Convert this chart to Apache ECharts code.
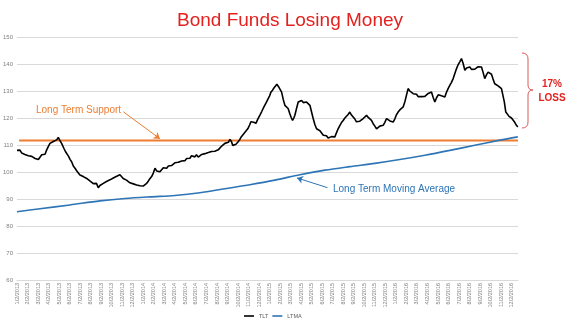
<!DOCTYPE html>
<html>
<head>
<meta charset="utf-8">
<script src="https://cdn.jsdelivr.net/npm/echarts@6/dist/echarts.min.js"></script>
<style>
  html, body { margin: 0; padding: 0; background: #fff; }
  #chart { width: 580px; height: 326px; }
</style>
</head>
<body>
<div id="chart"></div>
<script>
// Month tick labels (one per month, Jan 2013 .. Dec 2016)
const years = [2013, 2014, 2015, 2016];
const monthLabels = [];
years.forEach(y => { for (let m = 1; m <= 12; m++) monthLabels.push(m + '/2/' + y); });

// TLT closing prices: [months since Jan 2013, price]
const tlt = [
  [0, 108.0], [0.28, 108.1], [0.45, 107.0], [0.60, 107.6], [0.75, 106.5], [0.92, 106.9],
  [1.08, 106.0], [1.23, 106.7], [1.40, 105.8], [1.55, 106.3], [1.72, 105.0], [1.87, 105.3],
  [2.03, 104.6], [2.18, 105.2], [2.35, 106.4], [2.50, 107.1], [2.66, 106.6], [2.82, 108.2],
  [2.98, 109.5], [3.13, 110.6], [3.30, 110.2], [3.45, 111.3], [3.62, 111.0], [3.77, 111.9],
  [3.92, 112.8], [4.08, 111.6], [4.25, 110.5], [4.45, 108.8], [4.60, 107.6], [4.72, 106.9],
  [4.90, 105.8], [5.05, 104.6], [5.19, 103.8], [5.35, 102.2], [5.51, 101.4], [5.70, 100.3],
  [5.85, 99.6], [5.98, 98.9], [6.15, 99.4], [6.30, 98.3], [6.45, 98.6], [6.62, 97.6],
  [6.80, 97.9], [6.95, 96.6], [7.10, 96.9], [7.25, 95.7], [7.40, 95.2], [7.55, 95.8],
  [7.72, 94.2], [7.88, 95.0], [8.05, 94.6], [8.20, 95.8], [8.35, 95.3], [8.50, 96.5],
  [8.65, 96.1], [8.83, 97.1], [9.00, 96.7], [9.15, 97.8], [9.30, 97.5], [9.47, 98.4],
  [9.62, 98.0], [9.78, 99.0], [9.93, 98.4], [10.09, 97.6], [10.25, 97.9], [10.40, 97.0],
  [10.55, 96.5], [10.73, 96.0], [10.90, 96.4], [11.05, 95.6], [11.20, 95.9], [11.37, 95.2],
  [11.52, 95.6], [11.68, 94.9], [11.85, 95.3], [11.99, 94.8], [12.15, 95.2], [12.32, 95.8],
  [12.47, 96.6], [12.62, 97.5], [12.79, 98.3], [12.95, 99.6], [13.11, 101.4], [13.27, 100.4],
  [13.42, 100.8], [13.58, 100.1], [13.75, 100.7], [13.90, 101.6], [14.05, 101.0], [14.22, 101.4],
  [14.38, 102.2], [14.53, 101.6], [14.68, 102.4], [14.84, 102.6], [15.00, 103.4], [15.15, 102.8],
  [15.32, 103.6], [15.48, 103.2], [15.65, 104.1], [15.80, 104.6], [15.95, 104.2], [16.12, 105.0],
  [16.28, 105.6], [16.43, 105.1], [16.58, 106.0], [16.74, 106.3], [16.90, 105.6], [17.05, 106.4],
  [17.22, 105.5], [17.38, 105.7], [17.55, 106.5], [17.70, 105.9], [17.86, 106.8], [18.02, 106.3],
  [18.18, 107.2], [18.33, 106.9], [18.48, 107.6], [18.64, 108.1], [18.80, 107.7], [18.95, 108.4],
  [19.12, 108.2], [19.28, 108.8], [19.45, 109.6], [19.60, 110.1], [19.75, 110.6], [19.92, 111.3],
  [20.08, 111.0], [20.23, 112.1], [20.38, 111.2], [20.50, 109.8], [20.61, 109.4], [20.80, 110.3],
  [20.99, 111.1], [21.15, 111.9], [21.30, 113.0], [21.46, 113.6], [21.62, 114.5], [21.78, 115.2],
  [21.94, 116.1], [22.10, 117.4], [22.22, 118.6], [22.32, 119.1], [22.50, 118.4], [22.70, 118.0],
  [22.88, 119.6], [23.08, 121.1], [23.25, 122.4], [23.46, 124.1], [23.65, 125.5], [23.84, 127.0],
  [24.00, 128.2], [24.12, 129.5], [24.28, 130.3], [24.41, 131.1], [24.55, 131.8], [24.69, 132.5],
  [24.85, 131.6], [24.98, 132.1], [25.14, 129.6], [25.30, 126.8], [25.45, 124.7], [25.60, 125.3],
  [25.76, 123.5], [25.92, 121.6], [26.05, 120.2], [26.18, 119.1], [26.30, 120.0], [26.40, 121.0],
  [26.55, 123.4], [26.72, 125.9], [26.88, 126.6], [27.04, 126.5], [27.20, 125.7], [27.35, 126.2],
  [27.51, 125.9], [27.67, 125.2], [27.83, 124.7], [27.98, 122.3], [28.14, 119.8], [28.30, 117.6],
  [28.46, 116.0], [28.62, 116.6], [28.78, 115.3], [28.94, 114.8], [29.10, 113.6], [29.25, 113.0],
  [29.40, 113.4], [29.56, 112.6], [29.72, 112.3], [29.88, 113.1], [30.04, 112.4], [30.20, 113.0],
  [30.36, 114.6], [30.51, 116.0], [30.67, 117.2], [30.83, 118.3], [30.99, 119.1], [31.15, 120.0],
  [31.30, 120.6], [31.46, 121.3], [31.62, 122.2], [31.78, 121.1], [31.94, 120.4], [32.10, 119.6],
  [32.25, 118.6], [32.41, 117.9], [32.57, 118.8], [32.73, 119.0], [32.89, 119.8], [33.05, 120.5],
  [33.21, 121.0], [33.37, 120.2], [33.52, 119.5], [33.68, 119.1], [33.84, 117.9], [34.00, 117.0],
  [34.16, 116.0], [34.32, 116.5], [34.47, 117.0], [34.63, 116.7], [34.79, 117.3], [34.95, 118.4],
  [35.11, 119.8], [35.27, 119.3], [35.43, 118.9], [35.58, 119.2], [35.74, 118.5], [35.90, 119.7],
  [36.05, 121.2], [36.21, 122.2], [36.37, 123.0], [36.53, 123.6], [36.69, 124.1], [36.85, 126.0],
  [37.00, 128.4], [37.16, 130.9], [37.32, 130.0], [37.48, 129.5], [37.64, 129.0], [37.80, 128.3],
  [37.96, 128.8], [38.11, 127.9], [38.27, 127.2], [38.43, 127.9], [38.59, 128.6], [38.75, 128.0],
  [38.91, 128.4], [39.07, 129.1], [39.22, 129.6], [39.38, 129.6], [39.54, 127.6], [39.70, 125.9],
  [39.86, 127.5], [40.02, 128.6], [40.17, 129.0], [40.33, 128.2], [40.49, 127.6], [40.65, 127.8],
  [40.81, 129.6], [40.97, 131.0], [41.12, 132.1], [41.28, 133.2], [41.44, 134.6], [41.60, 136.5],
  [41.76, 138.3], [41.92, 139.8], [42.08, 140.9], [42.23, 142.0], [42.39, 140.2], [42.55, 137.7],
  [42.71, 138.5], [42.86, 139.2], [43.02, 138.9], [43.18, 138.0], [43.34, 138.6], [43.50, 138.1],
  [43.66, 138.3], [43.82, 139.0], [43.97, 138.4], [44.13, 138.9], [44.29, 136.8], [44.44, 134.6],
  [44.60, 136.0], [44.76, 137.0], [44.92, 137.7], [45.08, 136.2], [45.23, 134.4], [45.39, 132.7],
  [45.55, 132.9], [45.71, 131.9], [45.87, 132.1], [46.03, 130.9], [46.18, 130.2], [46.30, 126.0],
  [46.44, 122.2], [46.60, 121.5], [46.75, 120.6], [46.82, 121.0], [46.98, 120.0], [47.13, 119.8],
  [47.29, 118.4], [47.45, 117.3], [47.58, 116.7]
];

// Long-term moving average: [months since Jan 2013, value]
const ltma = [
  [0, 85.3], [2.18, 86.4], [5.03, 87.8], [7.88, 89.3], [10.26, 90.2], [12.63, 90.8],
  [15.0, 91.3], [17.38, 92.3], [19.75, 93.8], [22.13, 95.3], [24.5, 97.0], [26.88, 99.0],
  [29.25, 100.7], [31.62, 102.0], [34.0, 103.2], [36.37, 104.6], [38.75, 106.2], [41.12, 108.0],
  [43.49, 109.9], [45.87, 111.8], [47.58, 113.0]
];

// Long-term support level
const supportLevel = 111.7;
const xEnd = 47.6;

// Y-axis tick range
const yMin = 60, yMax = 150, yStep = 10;

const FONT = 'Liberation Sans, Arial, sans-serif';
const BLUE = '#2E75B6';
const ORANGE = '#ED7D31';
const RED = '#E3211F';
const BRACE = '#DC5A5A';

const chart = echarts.init(document.getElementById('chart'), null, { renderer: 'canvas' });

// Curly brace next to the last drop, built from curve and line pieces
function braceSeg(type, shape) {
  return { type: type, shape: shape, style: { stroke: BRACE, lineWidth: 1, fill: null }, silent: true };
}
const brace = [
  braceSeg('bezierCurve', { x1: 522, y1: 53, cpx1: 528, cpy1: 53, x2: 528, y2: 59 }),
  braceSeg('line', { x1: 528, y1: 59, x2: 528, y2: 85 }),
  braceSeg('bezierCurve', { x1: 528, y1: 85, cpx1: 528, cpy1: 90, x2: 533, y2: 90 }),
  braceSeg('bezierCurve', { x1: 533, y1: 90, cpx1: 528, cpy1: 90, x2: 528, y2: 95 }),
  braceSeg('line', { x1: 528, y1: 95, x2: 528, y2: 122 }),
  braceSeg('bezierCurve', { x1: 528, y1: 122, cpx1: 528, cpy1: 128, x2: 522, y2: 128 })
];

chart.setOption({
  animation: false,
  backgroundColor: '#ffffff',
  textStyle: { fontFamily: FONT },
  title: {
    text: 'Bond Funds Losing Money',
    left: 'center',
    top: 6,
    textStyle: { fontFamily: FONT, fontSize: 19, fontWeight: 'normal', color: RED }
  },
  legend: {
    data: ['TLT', 'LTMA'],
    left: 239,
    bottom: 2,
    icon: 'rect',
    itemWidth: 10,
    itemHeight: 1.6,
    itemGap: 4,
    textStyle: { fontSize: 5.5, color: '#595959', fontFamily: FONT }
  },
  grid: { left: 17, right: 62, top: 37, bottom: 46, containLabel: false },
  xAxis: {
    type: 'value',
    min: 0,
    max: xEnd,
    interval: 1,
    splitLine: { show: false },
    axisTick: { show: false },
    axisLine: { show: true, lineStyle: { color: '#D9D9D9', width: 1 } },
    axisLabel: {
      rotate: 90,
      fontSize: 5.5,
      color: '#808080',
      margin: 3,
      showMaxLabel: false,
      formatter: v => (Number.isInteger(v) && monthLabels[v]) ? monthLabels[v] : ''
    }
  },
  yAxis: {
    type: 'value',
    min: yMin,
    max: yMax,
    interval: yStep,
    axisLine: { show: false },
    axisTick: { show: false },
    splitLine: { lineStyle: { color: '#D9D9D9', width: 1 } },
    axisLabel: { fontSize: 6, color: '#808080', margin: 4 }
  },
  series: [
    {
      name: 'Support',
      type: 'line',
      data: [[0.2, supportLevel], [xEnd, supportLevel]],
      symbol: 'none',
      lineStyle: { color: ORANGE, width: 2 },
      silent: true,
      z: 1,
      markLine: {
        silent: true,
        symbol: ['none', 'arrow'],
        symbolSize: 6,
        label: { show: false },
        lineStyle: { color: ORANGE, width: 1, type: 'solid' },
        data: [[{ coord: [10.1, 122.3] }, { coord: [13.58, 112.3] }]]
      }
    },
    {
      name: 'LTMA',
      type: 'line',
      data: ltma,
      symbol: 'none',
      smooth: 0.3,
      lineStyle: { color: BLUE, width: 1.6 },
      itemStyle: { color: BLUE },
      z: 2,
      markLine: {
        silent: true,
        symbol: ['none', 'arrow'],
        symbolSize: 6,
        label: { show: false },
        lineStyle: { color: BLUE, width: 1, type: 'solid' },
        data: [[{ coord: [29.5, 94.2] }, { coord: [26.6, 97.8] }]]
      }
    },
    {
      name: 'TLT',
      type: 'line',
      data: tlt,
      symbol: 'none',
      lineStyle: { color: '#000000', width: 1.6 },
      itemStyle: { color: '#000000' },
      z: 3
    }
  ],
  graphic: [
    {
      type: 'text', x: 36, y: 105,
      style: { text: 'Long Term Support', fill: ORANGE, font: '10px ' + FONT }
    },
    {
      type: 'text', x: 333, y: 184,
      style: { text: 'Long Term Moving Average', fill: BLUE, font: '10px ' + FONT }
    }
  ].concat(brace).concat([
    {
      type: 'text', x: 552, y: 84,
      style: { text: '17%', fill: RED, font: 'bold 10px ' + FONT, align: 'center', verticalAlign: 'middle' }
    },
    {
      type: 'text', x: 552, y: 98,
      style: { text: 'LOSS', fill: RED, font: 'bold 10px ' + FONT, align: 'center', verticalAlign: 'middle' }
    }
  ])
});
</script>
</body>
</html>
